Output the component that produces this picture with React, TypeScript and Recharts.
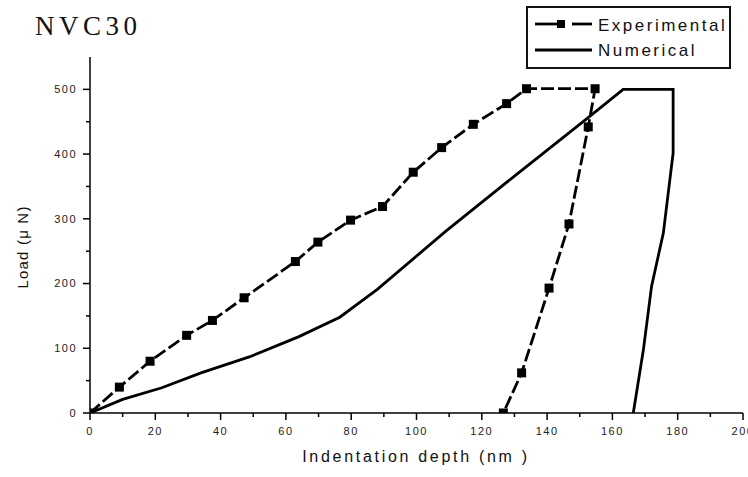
import React from 'react'
import { LineChart, Line, XAxis, YAxis } from 'recharts'

// indentation depth (nm) / load (µN)
const expDepth = [0, 9, 18.4, 29.6, 37.5, 47.2, 62.9, 69.8, 79.8, 89.6, 99, 107.7, 117.4, 127.6, 133.7, 154.7, 152.6, 146.7, 140.6, 132.2, 126.6]
const expLoad = [0, 40, 80, 120, 143, 178, 234, 264, 298, 319, 372, 410, 446, 478, 501, 501, 442, 292, 193, 62, 0]

const numDepth = [0, 10, 22, 34, 49, 64, 76.5, 88, 109, 130, 152, 163.3, 178.6, 178.6, 175.6, 172, 169.5, 166.4]
const numLoad = [0, 21, 39, 62, 87, 118, 148, 191, 281, 366, 454, 500, 500, 402, 278, 196, 98, 0]

const xTicks = [0, 10, 20, 30, 40, 50, 60, 70, 80, 90, 100, 110, 120, 130, 140, 150, 160, 170, 180, 190, 200]
const yTicks = [0, 50, 100, 150, 200, 250, 300, 350, 400, 450, 500]

const expData = expDepth.map((x, i) => ({ x, y: expLoad[i] }))
const numData = numDepth.map((x, i) => ({ x, y: numLoad[i] }))

const sans = '"Liberation Sans", Arial, sans-serif'
const ink = '#111'

function YTick({ x, y, payload }: any) {
  const major = payload.value % 100 === 0
  return (
    <g>
      <line x1={x} x2={x - (major ? 7 : 4)} y1={y} y2={y} stroke="#000" strokeWidth={1.5} />
      {major && (
        <text x={x - 13} y={y} dy="0.35em" textAnchor="end" fontSize={11} fontFamily={sans} letterSpacing={1.5} fill="#222">
          {payload.value}
        </text>
      )}
    </g>
  )
}

function XTick({ x, y, payload }: any) {
  const major = payload.value % 20 === 0
  return (
    <g>
      <line x1={x} x2={x} y1={y} y2={y + (major ? 7 : 4)} stroke="#000" strokeWidth={1.5} />
      {major && (
        <text x={x} y={y + 22} textAnchor="middle" fontSize={11} fontFamily={sans} letterSpacing={1.5} fill="#222">
          {payload.value}
        </text>
      )}
    </g>
  )
}

const squareDot = (p: any) => (
  <rect key={`d${p.index}`} x={p.cx - 4.5} y={p.cy - 4.5} width={9} height={9} fill="#000" />
)

export default function App() {
  return (
    <div style={{ position: 'fixed', left: 0, top: 0, width: 748, height: 477, background: '#fff' }}>
      <LineChart width={748} height={477} margin={{ top: 57, right: 5, bottom: 0, left: 0 }}>
        <XAxis
          type="number"
          dataKey="x"
          domain={[0, 200]}
          ticks={xTicks}
          interval={0}
          tickSize={0}
          tickMargin={0}
          tick={<XTick />}
          axisLine={{ stroke: '#000', strokeWidth: 1.5 }}
          height={64}
          allowDataOverflow
        />
        <YAxis
          type="number"
          dataKey="y"
          domain={[0, 550]}
          ticks={yTicks}
          interval={0}
          tickSize={0}
          tickMargin={0}
          tick={<YTick />}
          axisLine={{ stroke: '#000', strokeWidth: 1.5 }}
          width={90}
          allowDataOverflow
        />
        <Line
          data={expData}
          dataKey="y"
          type="linear"
          stroke="#000"
          strokeWidth={2.8}
          strokeDasharray="13 4"
          dot={squareDot}
          activeDot={false}
          isAnimationActive={false}
        />
        <Line
          data={numData}
          dataKey="y"
          type="linear"
          stroke="#000"
          strokeWidth={2.8}
          dot={false}
          activeDot={false}
          isAnimationActive={false}
        />
      </LineChart>

      {/* title, legend and axis titles */}
      <svg width={748} height={477} style={{ position: 'absolute', left: 0, top: 0, pointerEvents: 'none' }}>
        <text x={35} y={35} fontSize={27} fontFamily='"Liberation Serif", "Times New Roman", serif' letterSpacing={4.5} fill={ink}>
          NVC30
        </text>

        <rect x={527} y={7} width={203} height={61} fill="#fff" stroke={ink} strokeWidth={2} />
        <line x1={535} x2={557} y1={24} y2={24} stroke="#000" strokeWidth={2.8} />
        <rect x={557} y={20} width={8} height={8} fill="#000" />
        <line x1={572} x2={592} y1={24} y2={24} stroke="#000" strokeWidth={2.8} />
        <text x={598} y={31} fontSize={17} fontFamily={sans} letterSpacing={2.5} fill={ink}>
          Experimental
        </text>
        <line x1={535} x2={592} y1={50} y2={50} stroke="#000" strokeWidth={2.8} />
        <text x={598} y={56} fontSize={17} fontFamily={sans} letterSpacing={2.5} fill={ink}>
          Numerical
        </text>

        <text transform="translate(28,247) rotate(-90)" textAnchor="middle" fontSize={15} fontFamily={sans} letterSpacing={1.2} fill={ink}>
          Load (μ N)
        </text>
        <text x={416} y={462} textAnchor="middle" fontSize={16} fontFamily={sans} letterSpacing={2.7} fill={ink}>
          Indentation depth  (nm )
        </text>
      </svg>
    </div>
  )
}
